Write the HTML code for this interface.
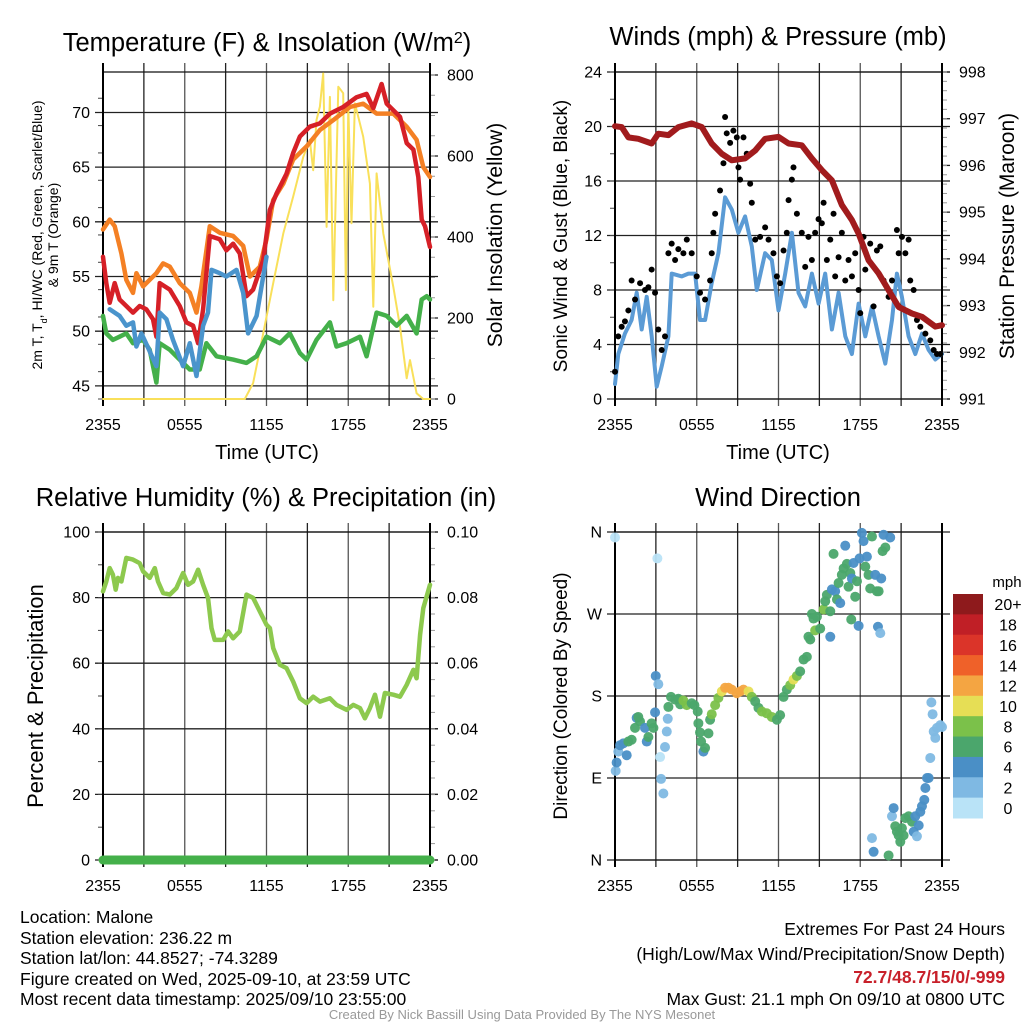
<!DOCTYPE html>
<html><head><meta charset="utf-8">
<style>
html,body{margin:0;padding:0;background:#fff;width:1024px;height:1024px;overflow:hidden}
svg{display:block;font-family:"Liberation Sans",sans-serif}
.ft{font-family:"Liberation Sans",sans-serif;font-size:17.5px;fill:#000}
</style></head>
<body>
<svg id="fig" width="1024" height="1024" viewBox="0 0 1024 1024" xmlns="http://www.w3.org/2000/svg">
  <g id="p1"></g>
  <g id="p2"></g>
  <g id="p3"></g>
  <g id="p4"></g>

  <text x="267" y="51" font-size="25.5" text-anchor="middle">Temperature (F) &amp; Insolation (W/m<tspan baseline-shift="super" font-size="16">2</tspan>)</text>
  <text x="778" y="45" font-size="25.5" text-anchor="middle">Winds (mph) &amp; Pressure (mb)</text>
  <text x="266" y="506" font-size="25.5" text-anchor="middle">Relative Humidity (%) &amp; Precipitation (in)</text>
  <text x="778" y="506" font-size="25.5" text-anchor="middle">Wind Direction</text>

  <text x="267" y="459" font-size="20" text-anchor="middle">Time (UTC)</text>
  <text x="778" y="459" font-size="20" text-anchor="middle">Time (UTC)</text>

  <text transform="translate(42,235) rotate(-90)" font-size="14" text-anchor="middle">2m T, T<tspan baseline-shift="sub" font-size="9">d</tspan>, HI/WC (Red, Green, Scarlet/Blue)</text>
  <text transform="translate(58,235) rotate(-90)" font-size="14" text-anchor="middle">&amp; 9m T (Orange)</text>
  <text transform="translate(502,235) rotate(-90)" font-size="21" text-anchor="middle">Solar Insolation (Yellow)</text>
  <text transform="translate(567,236) rotate(-90)" font-size="19" text-anchor="middle">Sonic Wind &amp; Gust (Blue, Black)</text>
  <text transform="translate(1014,236) rotate(-90)" font-size="21" text-anchor="middle">Station Pressure (Maroon)</text>
  <text transform="translate(43,696) rotate(-90)" font-size="22" text-anchor="middle">Percent &amp; Precipitation</text>
  <text transform="translate(567,696) rotate(-90)" font-size="19" text-anchor="middle">Direction (Colored By Speed)</text>

  <g id="cbar"></g>

  <g>
    <text class="ft" x="20" y="923">Location: Malone</text>
    <text class="ft" x="20" y="944">Station elevation: 236.22 m</text>
    <text class="ft" x="20" y="964">Station lat/lon: 44.8527; -74.3289</text>
    <text class="ft" x="20" y="985">Figure created on Wed, 2025-09-10, at 23:59 UTC</text>
    <text class="ft" x="20" y="1005">Most recent data timestamp: 2025/09/10 23:55:00</text>
  </g>
  <g text-anchor="end">
    <text class="ft" x="1005" y="935">Extremes For Past 24 Hours</text>
    <text class="ft" x="1005" y="960">(High/Low/Max Wind/Precipitation/Snow Depth)</text>
    <text class="ft" x="1005" y="983" style="fill:#c8202a;font-weight:bold">72.7/48.7/15/0/-999</text>
    <text class="ft" x="1005" y="1005">Max Gust: 21.1 mph On 09/10 at 0800 UTC</text>
  </g>
  <text x="522" y="1019" font-size="13" fill="#999" text-anchor="middle">Created By Nick Bassill Using Data Provided By The NYS Mesonet</text>
</svg>
<script>
// ---------- data ----------
const timeTicks = [0,6,12,18,24];
const timeTickLabels = ["2355","0555","1155","1755","2355"];

const redT = [0,.24,.49,.86,1.22,1.71,2.2,2.69,3.18,3.67,3.92,4.16,4.9,5.63,6.12,6.61,6.98,7.35,7.84,8.57,9.06,9.55,10.04,10.53,11.02,11.76,12.25,12.74,13.47,13.96,14.45,15.18,15.92,16.65,17.63,18.61,19.35,19.84,20.45,20.82,21.8,22.29,22.78,23.14,23.39,23.63,24];
const redV = [56.8,54.4,52.6,54.4,52.9,52.3,51.7,52.3,52,51.1,49.5,54.4,53.8,52.3,50.8,50.5,48.9,52,58.7,58.4,57.4,58,57.1,53.2,53.8,56.5,61.1,62.6,64.4,66.3,67.8,68.7,69,69.9,70.5,71.4,71.7,70.4,72.6,70.8,69.6,67.2,66.6,64.1,60.2,59.6,57.7];
const orangeT = [0,.49,.86,1.35,1.71,2.2,2.45,2.94,3.43,3.92,4.41,4.9,5.63,6.37,6.86,7.22,7.84,8.57,9.55,10.29,10.78,11.51,12,12.49,13.23,13.96,14.94,15.92,16.9,18.12,19.1,20.08,21.31,22.29,23.02,23.51,24];
const orangeV = [59.3,60.2,59.6,57.1,54.7,53.5,55.3,54.1,54.7,55.3,56.2,55.9,54.4,53.5,51.7,54.1,59.6,59,58.7,57.8,55,55.9,58.4,62,63.5,65.7,66.9,68.4,69.3,70.5,70.8,69.9,69.9,68.7,67.5,65,64.1];
const blueT = [.49,.86,1.22,1.71,2.2,2.45,2.82,3.3,3.92,4.16,4.65,5.14,5.88,6.37,6.86,7.35,7.71,7.96,8.57,9.06,9.8,10.29,10.65,11.27,11.76,12];
const blueV = [52,51.7,51.4,50.5,50.8,48.6,49.8,48.5,46.8,51.7,51.1,49.2,46.8,48.9,45.9,50.5,51.7,55.6,55.3,55,55.6,53.5,49.8,51.4,55,56.8];
const greenT = [0,.24,.73,1.22,1.71,2.2,2.94,3.43,3.92,4.16,4.9,5.63,6.37,7.1,7.59,8.33,9.55,10.53,11.27,12,12.98,13.71,14.45,14.94,15.67,16.65,17.14,17.88,18.86,19.35,20.08,20.82,21.55,22.29,23.02,23.39,23.76,24];
const greenV = [51.4,49.8,49.2,49.5,49.8,48.9,49.2,48.3,45.3,48.9,48.3,47.4,46.5,46.5,48.9,47.7,47.4,47.1,47.7,49.5,48.9,49.8,48,47.4,49.2,50.8,48.6,48.9,49.5,47.7,51.7,51.4,50.5,51.4,49.8,52.9,53.2,52.9];
const solarT = [0,10.41,11.02,11.76,12.49,13.23,13.96,14.7,15.18,15.43,15.67,15.92,16.16,16.41,16.65,16.9,17.27,17.63,17.83,18,18.24,18.49,19.1,19.59,19.84,20.08,20.57,21.31,21.8,22.29,22.53,23.02,23.5,24];
const solarV = [0,0,39,162,286,409,500,598,640,565,689,722,804,425,746,244,771,755,269,722,434,730,648,532,228,557,409,277,179,51,96,14,0,0];

const windT = [0,.24,.73,1.22,1.59,1.96,2.33,2.69,3.06,3.43,3.92,4.16,4.9,5.39,5.88,6.24,6.61,7.1,7.59,8.08,8.57,9.06,9.55,10.04,10.41,11.02,11.51,12,12.49,12.98,13.47,13.96,14.45,14.94,15.43,15.92,16.41,16.9,17.39,17.88,18.37,18.86,19.35,19.84,20.33,20.69,21.06,21.55,22.04,22.53,23.02,23.51,24];
const windV = [1.1,3.3,4.8,5.8,7.8,5.1,7.5,4.6,0.9,2.4,4.6,9.2,9,9.2,9.2,5.8,5.8,8.5,10.7,14.8,13.9,12.2,13.4,11.2,8,10.7,10.2,6.5,9.2,12.2,7.8,6.8,9.2,7,9.2,5.1,7.8,4.6,3.3,7,4.6,6.8,4.6,2.6,5.8,9.2,7.5,4.6,3.3,4.8,3.6,2.9,3.3];
const gustT = [0,.24,.49,.73,.98,1.22,1.47,1.84,2.2,2.45,2.69,2.94,3.18,3.43,3.67,3.92,4.16,4.41,4.65,5.02,5.27,5.63,6,6.24,6.61,6.98,7.1,7.22,7.35,7.71,7.96,8.08,8.2,8.45,8.69,8.94,9.06,9.18,9.43,9.67,9.92,10.04,10.29,10.65,11.02,11.27,11.63,11.88,12.12,12.37,12.61,12.74,12.98,13.1,13.35,13.71,13.96,14.2,14.45,14.69,14.94,15.18,15.31,15.55,15.8,16.04,16.16,16.41,16.65,16.9,17.14,17.39,17.63,17.88,18,18.24,18.37,18.73,18.98,19.22,19.47,19.71,20.08,20.33,20.69,20.82,21.06,21.31,21.55,21.67,21.92,22.16,22.41,22.78,23.14,23.39,23.63,23.88];
const gustV = [2,4.6,5.3,5.7,6.5,8.7,7.3,8.5,8,8.2,9.5,7.8,5.1,3.6,4.6,10.7,11.4,10.2,11,10.7,11.7,10.7,9,7.8,7.3,8.7,10.7,12.2,13.6,15.3,17.3,20.7,19.5,18.8,19.7,19.2,17,16.1,19.2,18,15.8,14.4,11.7,11.9,12.6,11.7,10.7,9,8.5,10.9,12.2,14.6,16.1,17,13.6,12.2,9.7,11.9,10.2,12.2,13.2,12.9,14.4,10.2,11.7,13.6,9,10.4,12.2,8.7,10.2,9,10.7,8,6.3,11.9,9.5,11.4,6.8,10.9,11.2,8.7,7.5,8.7,12.4,10.7,11.9,10.7,11.7,8.7,8,5.8,5.3,4.8,4.3,3.6,3.3,3.3];
const presT = [0,.49,.98,1.71,2.69,3.18,3.92,4.65,5.63,6.37,7.1,7.84,8.57,9.55,10.29,11.02,12,12.74,13.71,14.45,15.18,15.92,16.65,17.39,17.88,18.61,19.35,20.08,20.82,21.8,22.53,23.51,24];
const presV = [996.84,996.82,996.6,996.57,996.47,996.68,996.65,996.82,996.9,996.82,996.47,996.25,996.11,996.15,996.32,996.57,996.61,996.47,996.43,996.15,995.9,995.68,995.15,994.83,994.54,993.97,993.69,993.33,992.97,992.83,992.76,992.55,992.58];

const rhT = [0,.24,.49,.73,.93,1.1,1.35,1.71,2.2,2.69,2.94,3.43,3.8,4.04,4.41,4.9,5.39,5.88,6.24,6.61,6.98,7.35,7.71,7.96,8.2,8.82,9.18,9.55,10.04,10.53,11.02,11.51,12,12.25,12.49,12.98,13.47,13.96,14.45,14.94,15.43,15.92,16.65,17.14,17.88,18.37,18.86,19.22,19.59,19.96,20.33,20.69,21.31,21.8,22.29,22.78,23.02,23.27,23.51,24];
const rhV = [81.9,84.9,89,87,82.4,86,84.9,92.1,91.6,90.5,88,86,89,84.9,81.4,80.9,82.9,87.5,83.9,84.9,88.5,83.9,79.9,70.7,67.1,67.1,69.7,67.6,69.7,80.9,79.9,75.8,71.7,70.7,64.6,59.5,58.5,54.4,49.3,47.8,49.8,48.3,49.3,47.3,45.8,47.3,46.3,43.2,46.3,50.4,43.7,50.9,50.4,49.8,53.4,58,55.4,68.7,76.8,83.9];
const precipT = [0,24];
const precipV = [0,0];

const wdT = [0,.05,.12,.24,.37,.61,.86,.98,1.22,1.47,1.59,1.84,1.71,2.2,2.33,2.45,2.69,2.82,2.94,2.99,3.18,3.11,3.31,3.38,3.55,3.67,3.8,3.87,3.92,4.11,4.41,4.65,4.78,5.02,5.27,5.63,5.83,6.07,6.12,6.24,6.32,6.49,6.61,6.86,6.98,7.1,7.35,7.59,7.84,8.08,8.33,8.57,8.94,9.18,9.43,9.8,10.04,10.29,10.53,10.78,11.14,11.51,11.88,12.12,12.37,12.61,12.86,13.1,13.35,13.59,13.84,14.08,14.2,14.33,14.45,14.57,14.69,14.82,15.06,15.31,15.43,15.55,15.8,15.8,15.92,16.04,16.16,16.29,16.41,16.53,16.65,16.78,16.9,17.02,17.14,17.27,17.34,17.39,17.51,17.63,17.76,17.88,17.95,18.12,18.24,18.37,18.49,18.61,18.73,18.86,18.98,18.86,19.1,19.22,19.3,19.35,19.47,19.54,19.64,19.71,19.84,20.2,20.08,20.33,20.45,20.57,20.69,20.82,20.94,21.06,21.18,21.31,21.55,21.8,21.92,22.04,22.16,22.29,22.41,22.53,22.7,22.78,22.9,23.02,23.14,23.22,23.31,23.39,23.51,23.63,23.88,24];
const wdDir = [354,97.8,107,119,126,128,115,130,132,145,156,152,157,145,130,135,150,145,162,202,193,331,113,89,73,124,141,155,168,179,176,177,171,175,170,172,170,163,150,140,130,119,123,139,154,160,170,178,185,189,189,187,183,185,187,185,179,174,167,163,161,157,154,159,179,187,192,198,202,207,220,223,245,242,270,265,252,267,254,275,284,291,273,245,297,336,295,286,304,282,313,320,345,325,300,315,264,309,326,289,306,257,331,359,350,322,333,313,298,355,9,24,313,295,256,295,249,309,339,357,343,354,5,48,57,37,31,27,20,35,27,46,48,42,31,48,26,38,53,59,66,79,90,90,112,173,160,141,134,145,148,146];
const wdSpd = [1,2.5,4.5,3,4.5,4.5,4.5,6.5,7.5,6.5,4.5,6.5,7.5,4.5,4.5,6.5,7.5,6.5,4.5,4.5,2.5,1,1,3,3,3,3,3,6.5,7.5,7.5,6.5,7.5,9.5,9.5,7.5,6.5,6.5,6.5,6.5,6.5,4.5,6.5,6.5,6.5,9.5,9.5,9.5,11.5,13.5,13.5,13.5,13.5,13.5,13.5,11.5,9.5,7.5,7.5,9.5,9.5,9.5,6.5,6.5,7.5,7.5,9.5,11.5,9.5,6.5,7.5,6.5,7.5,6.5,7.5,6.5,9.5,7.5,6.5,9.5,6.5,6.5,7.5,4.5,4.5,6.5,4.5,6.5,7.5,4.5,6.5,7.5,4.5,6.5,6.5,7.5,7.5,4.5,4.5,6.5,7.5,4.5,4.5,4.5,4.5,6.5,4.5,7.5,6.5,6.5,4.5,3,4.5,6.5,4.5,6.5,3,4.5,6.5,4.5,6.5,4.5,6.5,3,4.5,6.5,7.5,7.5,7.5,6.5,7.5,6.5,6.5,6.5,4.5,4.5,3,4.5,4.5,4.5,4.5,4.5,4.5,4.5,3,3,3,3,3,3,3,3];

const cbLabels = ["20+","18","16","14","12","10","8","6","4","2","0"];
const cbColors = ["#8e1a1c","#c01f26","#db3429","#ef6129","#f4a542","#e6de55","#7bc14a","#4ba66c","#4a8fc6","#7fb9e3","#b9e3f7"];
const cbBounds = [20,18,16,14,12,10,8,6,4,2,0];

// ---------- helpers ----------
const NS = "http://www.w3.org/2000/svg";
function mk(parent, tag, attrs){const e=document.createElementNS(NS,tag);for(const k in attrs)e.setAttribute(k,attrs[k]);parent.appendChild(e);return e;}
function xs(p,h){return p.x0+h/24*(p.x1-p.x0);}
function ysc(p,v,lo,hi){return p.y1-(v-lo)/(hi-lo)*(p.y1-p.y0);}

function frame(g,p,L,R){
  for(let h=0;h<=24;h+=3){
    const x=xs(p,h);
    const ln=mk(g,'line',{x1:x,x2:x,y1:p.y0-9,y2:p.y1+7,stroke:(h%6==0&&h>0&&h<24)?'#555':'#222','stroke-width':1.3});
    
    
  }
  L.ticks.forEach((v,i)=>{
    const y=ysc(p,v,L.lo,L.hi);
    const ln=mk(g,'line',{x1:p.x0-8,x2:p.x1+8,y1:y,y2:y,stroke:'#222','stroke-width':1.3});
    
    
    const t=mk(g,'text',{x:p.x0-13,y:y+5.5,'font-size':16,'text-anchor':'end'});
    t.textContent=L.labels[i];
    
    
  });
  if(L.minor) for(let v=L.lo;v<=L.hi+1e-9;v+=L.minor){const y=ysc(p,v,L.lo,L.hi);mk(g,'line',{x1:p.x0-5,x2:p.x0,y1:y,y2:y,stroke:'#444','stroke-width':1});}
  R.ticks.forEach((v,i)=>{
    const y=ysc(p,v,R.lo,R.hi);
    mk(g,'line',{x1:p.x1,x2:p.x1+8,y1:y,y2:y,stroke:'#222','stroke-width':1.3});
    const t=mk(g,'text',{x:p.x1+17,y:y+5.5,'font-size':16});
    t.textContent=R.labels[i];
    
    
  });
  if(R.minor) for(let v=R.lo;v<=R.hi+1e-9;v+=R.minor){const y=ysc(p,v,R.lo,R.hi);mk(g,'line',{x1:p.x1,x2:p.x1+5,y1:y,y2:y,stroke:'#999','stroke-width':1});}
  mk(g,'line',{x1:p.x0,x2:p.x1,y1:p.y0,y2:p.y0,stroke:'#111','stroke-width':1.3});
  mk(g,'line',{x1:p.x0,x2:p.x1,y1:p.y1,y2:p.y1,stroke:'#111','stroke-width':1.3});
  mk(g,'line',{x1:p.x0,x2:p.x0,y1:p.y0-9,y2:p.y1+7,stroke:'#000','stroke-width':2});
  mk(g,'line',{x1:p.x1,x2:p.x1,y1:p.y0-9,y2:p.y1+7,stroke:'#000','stroke-width':2});
  timeTicks.forEach((h,i)=>{
    const t=mk(g,'text',{x:xs(p,h),y:p.y1+31,'font-size':16,'text-anchor':'middle'});
    t.textContent=timeTickLabels[i];
    
    
  });
}
function line(g,p,T,V,lo,hi,color,w,name){
  const d=T.map((h,i)=>(i?'L':'M')+xs(p,h).toFixed(1)+' '+ysc(p,V[i],lo,hi).toFixed(1)).join(' ');
  const e=mk(g,'path',{d:d,fill:'none',stroke:color,'stroke-width':w,'stroke-linejoin':'round','stroke-linecap':'round'});
  
  
  return e;
}

// ---------- panel 1 ----------
const P1={x0:103,x1:430,y0:72,y1:399};
const g1=document.getElementById('p1');
const sHi=800*(P1.y1-P1.y0)/(399-75);
frame(g1,P1,{lo:43.8,hi:73.7,ticks:[45,50,55,60,65,70],labels:["45","50","55","60","65","70"],minor:2.5},
            {lo:0,hi:sHi,ticks:[0,200,400,600,800],labels:["0","200","400","600","800"],minor:50});
line(g1,P1,solarT,solarV,0,sHi,'#f9e05a',2,'solar-insolation-line');
line(g1,P1,greenT,greenV,43.8,73.7,'#44b04a',4.5,'dewpoint-line');
line(g1,P1,orangeT,orangeV,43.8,73.7,'#f48024',4.5,'temp-9m-line');
line(g1,P1,redT,redV,43.8,73.7,'#d62027',4.5,'temp-2m-line');
line(g1,P1,blueT,blueV,43.8,73.7,'#4a94cc',4.5,'wind-chill-line');

// ---------- panel 2 ----------
const P2={x0:615,x1:942,y0:72,y1:399};
const g2=document.getElementById('p2');
frame(g2,P2,{lo:0,hi:24,ticks:[0,4,8,12,16,20,24],labels:["0","4","8","12","16","20","24"],minor:2},
            {lo:991,hi:998,ticks:[991,992,993,994,995,996,997,998],labels:["991","992","993","994","995","996","997","998"],minor:0.2});
line(g2,P2,windT,windV,0,24,'#5b9bd5',4,'sonic-wind-line');
gustT.forEach((h,i)=>{
  const c=mk(g2,'circle',{cx:xs(P2,h),cy:ysc(P2,gustV[i],0,24),r:3,fill:'#000'});
  
  
});
line(g2,P2,presT,presV,991,998,'#a11b1d',6,'pressure-line');

// ---------- panel 3 ----------
const P3={x0:103,x1:430,y0:532,y1:860};
const g3=document.getElementById('p3');
frame(g3,P3,{lo:0,hi:100,ticks:[0,20,40,60,80,100],labels:["0","20","40","60","80","100"],minor:10},
            {lo:0,hi:0.1,ticks:[0,0.02,0.04,0.06,0.08,0.1],labels:["0.00","0.02","0.04","0.06","0.08","0.10"],minor:0.005});
line(g3,P3,rhT,rhV,0,100,'#8dc94e',4.5,'relative-humidity-line');
line(g3,P3,precipT,precipV,0,0.1,'#44b04a',9,'precipitation-line');

// ---------- panel 4 ----------
const P4={x0:615,x1:942,y0:532,y1:860};
const g4=document.getElementById('p4');
frame(g4,P4,{lo:0,hi:360,ticks:[0,90,180,270,360],labels:["N","E","S","W","N"]},{lo:0,hi:1,ticks:[],labels:[]});
function spdColor(s){for(let i=0;i<cbBounds.length;i++){if(s>=cbBounds[i])return cbColors[i];}return cbColors[cbColors.length-1];}
wdT.forEach((h,i)=>{
  const c=mk(g4,'circle',{cx:xs(P4,h),cy:ysc(P4,wdDir[i],0,360),r:5,fill:spdColor(wdSpd[i]),'fill-opacity':0.95});
  
  
});

// ---------- colorbar ----------
const gc=document.getElementById('cbar');
const cbTop=594, cbH=(818-594)/cbColors.length;
cbColors.forEach((col,i)=>{
  const r=mk(gc,'rect',{x:953,y:cbTop+i*cbH,width:30,height:cbH+0.5,fill:col});
  
  
  const t=mk(gc,'text',{x:1008,y:cbTop+i*cbH+cbH/2+6,'font-size':16,'text-anchor':'middle'});
  t.textContent=cbLabels[i];
  
  
});
const mph=mk(gc,'text',{x:1007,y:587,'font-size':15,'text-anchor':'middle'});
mph.textContent='mph';


</script>
</body></html>
